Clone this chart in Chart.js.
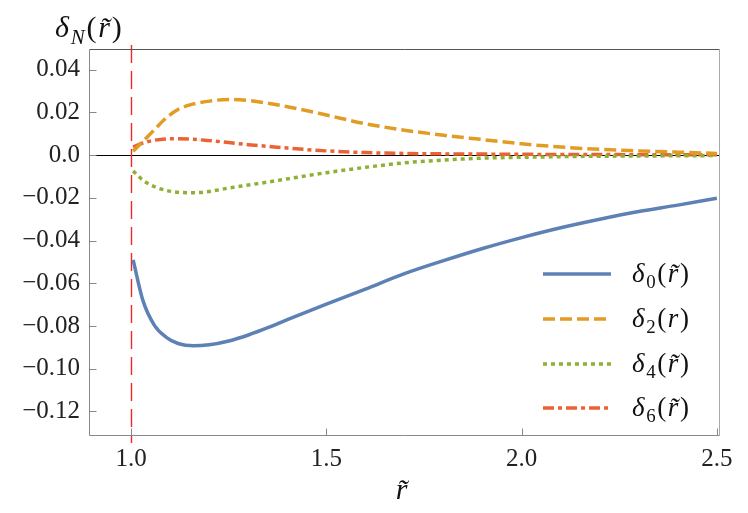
<!DOCTYPE html>
<html>
<head>
<meta charset="utf-8">
<script src="https://cdn.jsdelivr.net/npm/chart.js@4.4.1/dist/chart.umd.min.js"></script>
<style>
  html, body { margin: 0; padding: 0; background: #fff; }
  #wrap { width: 748px; height: 513px; position: relative; }
</style>
</head>
<body>
<div id="wrap"><canvas id="chart"></canvas></div>
<script>
// sample points in r~ shared by all four curves
const rValues = [1.005, 1.03, 1.06, 1.09, 1.12, 1.16, 1.2, 1.25, 1.3, 1.35, 1.4, 1.5, 1.6, 1.7, 1.8, 1.9, 2.0, 2.1, 2.2, 2.3, 2.4, 2.5];

const delta0 = [-0.0490, -0.0680, -0.0798, -0.0853, -0.0882, -0.0893, -0.0888, -0.0870, -0.0842, -0.0808, -0.0770, -0.0697, -0.0627, -0.0555, -0.0494, -0.0437, -0.0386, -0.0340, -0.0300, -0.0264, -0.0234, -0.0202];
const delta2 = [0.0018, 0.0064, 0.0120, 0.0175, 0.0214, 0.0240, 0.0253, 0.0261, 0.0256, 0.0243, 0.0227, 0.0188, 0.0147, 0.0117, 0.0093, 0.0073, 0.0053, 0.0038, 0.0027, 0.0020, 0.0014, 0.0008];
const delta4 = [-0.0074, -0.0117, -0.0148, -0.0165, -0.0174, -0.0176, -0.0170, -0.0154, -0.0140, -0.0126, -0.0111, -0.0082, -0.0057, -0.0036, -0.0023, -0.0014, -0.0010, -0.0007, -0.0005, -0.0004, -0.0003, -0.0002];
const delta6 = [0.0038, 0.0057, 0.0070, 0.0076, 0.0077, 0.0074, 0.0068, 0.0059, 0.0049, 0.0041, 0.0033, 0.0020, 0.0012, 0.0008, 0.0006, 0.0005, 0.0004, 0.0003, 0.0003, 0.0002, 0.0002, 0.0002];

const xTicks = [1.0, 1.5, 2.0, 2.5];
const xTickLabels = ['1.0', '1.5', '2.0', '2.5'];
const yTicks = [-0.12, -0.10, -0.08, -0.06, -0.04, -0.02, 0, 0.02, 0.04];
const yTickLabels = ['\u22120.12', '\u22120.10', '\u22120.08', '\u22120.06', '\u22120.04', '\u22120.02', '0.0', '0.02', '0.04'];

const markerR = 1.0;
const xRange = [0.892, 2.508];
const yRange = [-0.1315, 0.0497];

const SERIF = '"Liberation Serif", "DejaVu Serif", serif';
const TILDE_R = 'r\u0303';

const series = [
  { values: delta0, color: '#5e81b5', dash: [], label: [['\u03b4', 'it'], ['0', 'sub'], ['(', ''], [TILDE_R, 'it'], [')', '']] },
  { values: delta2, color: '#e19c24', dash: [12, 5], label: [['\u03b4', 'it'], ['2', 'sub'], ['(', ''], ['r', 'it'], [')', '']] },
  { values: delta4, color: '#8fb032', dash: [4, 4], label: [['\u03b4', 'it'], ['4', 'sub'], ['(', ''], [TILDE_R, 'it'], [')', '']] },
  { values: delta6, color: '#eb6235', dash: [11, 4, 4, 4], label: [['\u03b4', 'it'], ['6', 'sub'], ['(', ''], [TILDE_R, 'it'], [')', '']] }
];

function drawMath(ctx, parts, x, y, size) {
  let cx = x;
  parts.forEach(([text, style]) => {
    const isSub = style === 'sub' || style === 'sub-it';
    const italic = style === 'it' || style === 'sub-it';
    const fs = isSub ? size * 0.7 : size;
    ctx.font = `${italic ? 'italic ' : ''}${fs}px ${SERIF}`;
    ctx.fillText(text, cx, y + (isSub ? size * 0.22 : 0));
    cx += ctx.measureText(text).width + size * 0.06;
  });
  return cx - x;
}

const decorations = {
  id: 'decorations',
  beforeDatasetsDraw(chart) {
    const { ctx, chartArea: a, scales: { x } } = chart;
    const px = Math.round(x.getPixelForValue(markerR)) + 0.5;
    ctx.save();
    ctx.strokeStyle = '#f02828';
    ctx.lineWidth = 1.4;
    ctx.setLineDash([18, 8]);
    ctx.beginPath();
    ctx.moveTo(px, a.top - 4);
    ctx.lineTo(px, a.bottom + 7);
    ctx.stroke();
    ctx.restore();
  },
  afterDatasetsDraw(chart) {
    const { ctx, chartArea: a, scales: { x, y } } = chart;
    ctx.save();

    // frame
    const L = a.left + 0.5, R = a.right - 0.5, T = a.top + 0.5, B = a.bottom - 0.5;
    ctx.lineWidth = 1;
    ctx.strokeStyle = '#555';
    ctx.beginPath(); ctx.moveTo(L, T); ctx.lineTo(R, T); ctx.stroke();
    ctx.strokeStyle = '#aaa';
    ctx.beginPath(); ctx.moveTo(R, T); ctx.lineTo(R, B); ctx.stroke();
    ctx.strokeStyle = '#888';
    ctx.beginPath(); ctx.moveTo(L, T); ctx.lineTo(L, B); ctx.lineTo(R, B); ctx.stroke();

    // inward ticks
    ctx.beginPath();
    yTicks.forEach((v) => {
      const py = Math.round(y.getPixelForValue(v)) + 0.5;
      ctx.moveTo(L, py); ctx.lineTo(L + 7, py);
    });
    xTicks.forEach((v) => {
      const px = Math.round(x.getPixelForValue(v)) + 0.5;
      ctx.moveTo(px, B); ctx.lineTo(px, B - 7);
    });
    ctx.stroke();

    // legend
    ctx.fillStyle = '#111';
    ctx.textBaseline = 'alphabetic';
    const legendY = [274, 319, 364, 408];
    series.forEach((s, i) => {
      ctx.strokeStyle = s.color;
      ctx.lineWidth = 3.5;
      ctx.setLineDash(s.dash);
      ctx.beginPath();
      ctx.moveTo(543, legendY[i]);
      ctx.lineTo(611, legendY[i]);
      ctx.stroke();
      ctx.setLineDash([]);
      drawMath(ctx, s.label, 632, legendY[i] + 8, 27);
    });

    // axis titles
    drawMath(ctx, [['\u03b4', 'it'], ['N', 'sub-it'], ['(', ''], [TILDE_R, 'it'], [')', '']], 55, 37, 30);
    ctx.font = `italic 30px ${SERIF}`;
    ctx.textAlign = 'center';
    ctx.fillText(TILDE_R, (a.left + a.right) / 2 - 3, 499);
    ctx.restore();
  }
};

new Chart(document.getElementById('chart'), {
  type: 'line',
  data: {
    datasets: series.map((s) => ({
      data: rValues.map((r, i) => ({ x: r, y: s.values[i] })),
      borderColor: s.color,
      borderWidth: 3.5,
      borderDash: s.dash,
      borderCapStyle: 'butt',
      pointRadius: 0,
      fill: false,
      cubicInterpolationMode: 'monotone'
    }))
  },
  options: {
    responsive: true,
    maintainAspectRatio: false,
    animation: false,
    layout: { padding: { top: 49, right: 28, left: 0, bottom: 0 } },
    plugins: { legend: { display: false }, tooltip: { enabled: false } },
    scales: {
      x: {
        type: 'linear',
        min: xRange[0],
        max: xRange[1],
        afterFit(scale) { scale.height = 77; },
        afterBuildTicks(scale) { scale.ticks = xTicks.map((v) => ({ value: v })); },
        ticks: {
          callback: (v, i) => xTickLabels[i],
          font: { family: SERIF, size: 25 },
          color: '#222',
          padding: 8,
          maxRotation: 0,
          autoSkip: false
        },
        grid: { display: false, drawTicks: false },
        border: { display: false }
      },
      y: {
        min: yRange[0],
        max: yRange[1],
        afterFit(scale) { scale.width = 89; },
        afterBuildTicks(scale) { scale.ticks = yTicks.map((v) => ({ value: v })); },
        ticks: {
          callback: (v, i) => yTickLabels[i],
          font: { family: SERIF, size: 25 },
          color: '#222',
          padding: 9,
          autoSkip: false
        },
        grid: {
          drawTicks: false,
          lineWidth: 1,
          color: (ctx) => (ctx.tick && ctx.tick.value === 0 ? '#000' : 'rgba(0,0,0,0)')
        },
        border: { display: false }
      }
    }
  },
  plugins: [decorations]
});
</script>
</body>
</html>
